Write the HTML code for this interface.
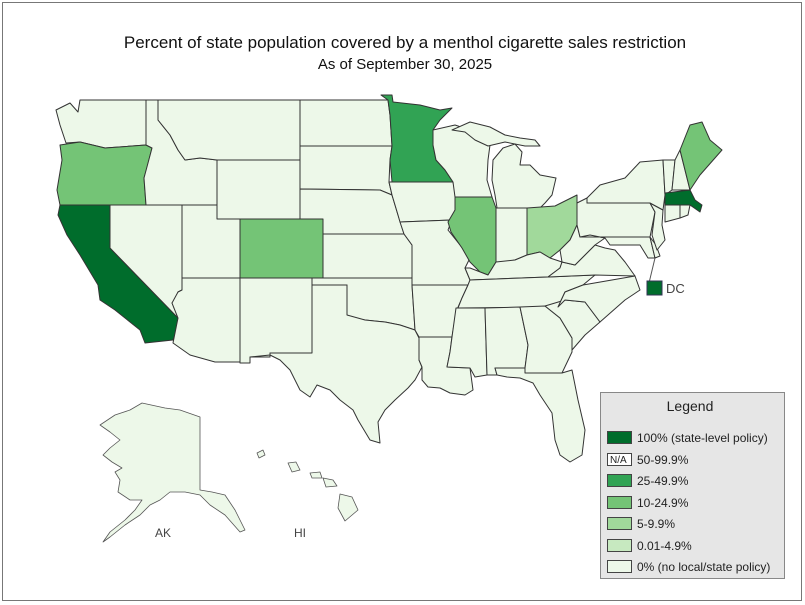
<!DOCTYPE html>
<html><head><meta charset="utf-8"><style>
body{margin:0;background:#fff;}
svg{display:block;font-family:"Liberation Sans",Arial,sans-serif;}
</style></head><body>
<svg width="805" height="605" viewBox="0 0 805 605">
<rect x="2.5" y="2.5" width="799" height="598" fill="#fff" stroke="#777"/>
<text x="405" y="48" font-size="17" text-anchor="middle" fill="#111">Percent of state population covered by a menthol cigarette sales restriction</text>
<text x="405" y="69" font-size="15" text-anchor="middle" fill="#111">As of September 30, 2025</text>
<g stroke="#333" stroke-width="1" stroke-linejoin="round" fill="#edf8e9">
<polygon points="56,110 70,103 78,112 80,100 146,100 146,145 105,148 80,142 66,143 60,125"/>
<polygon fill="#74c476" points="60,145 80,142 105,148 146,145 152,148 147,168 144,178 146,205 60,205 57,190 62,160"/>
<polygon fill="#006d2c" points="60,205 110,205 110,248 178,318 176,332 173,340 145,343 140,330 115,310 100,300 98,285 80,255 67,235 58,215"/>
<polygon points="110,205 182,205 182,290 178,292 175,300 172,303 178,318 110,248"/>
<polygon points="146,100 158,100 158,120 170,135 178,150 185,160 200,158 217,160 217,205 146,205 144,178 152,148 146,145"/>
<polygon points="158,100 300,100 300,160 217,160 200,158 185,160 178,150 170,135 158,120"/>
<polygon points="217,160 300,160 300,219 217,219"/>
<polygon points="182,205 217,205 217,219 240,219 240,278 182,278"/>
<polygon points="182,278 240,278 240,362 215,362 190,355 173,343 178,318 172,303 178,292 182,290"/>
<polygon fill="#74c476" points="240,219 323,219 323,278 240,278"/>
<polygon points="240,278 312,278 312,353 270,353 270,357 250,357 250,363 240,363"/>
<polygon points="300,100 388,100 390,115 392,146 300,146"/>
<polygon points="300,146 392,146 390,160 389,182 392,195 380,190 300,189"/>
<polygon points="300,189 380,190 392,195 398,215 404,234 323,234 323,219 300,219"/>
<polygon points="323,234 404,234 412,245 412,278 323,278"/>
<polygon points="312,278 412,278 412,285 415,330 400,325 385,322 365,320 350,318 347,315 347,285 312,285"/>
<polygon points="312,285 347,285 347,315 365,320 385,322 400,325 415,330 419,338 419,360 422,367 415,380 408,388 395,400 385,410 378,422 380,443 370,440 358,420 353,410 340,400 330,390 317,385 310,397 300,390 290,370 280,360 270,355 250,357 270,357 270,353 312,353"/>
<polygon fill="#31a354" points="381,95 392,95 393,102 420,105 440,110 452,108 440,120 433,130 433,145 436,160 445,170 453,182 392,182 390,160 392,146 390,115 388,100"/>
<polygon points="389,182 453,182 455,190 462,198 455,210 452,220 400,222 398,215 392,195"/>
<polygon points="400,222 452,220 448,230 460,245 470,258 465,268 470,280 468,285 412,285 412,245 404,234"/>
<polygon points="412,285 468,285 462,298 456,312 452,337 419,337 415,330"/>
<polygon points="419,337 452,337 450,352 447,367 470,368 473,390 465,395 450,393 440,388 428,387 422,380 422,367 419,360"/>
<polygon points="433,130 455,125 470,130 480,140 490,145 488,160 487,180 492,197 455,197 453,182 445,170 436,160 433,145"/>
<polygon points="452,130 470,122 490,127 505,135 520,138 535,140 540,146 525,146 505,142 488,146 475,140 465,132"/>
<polygon points="493,160 503,148 515,144 522,152 520,165 530,165 540,175 556,178 552,195 545,203 540,208 497,208 495,195 492,180"/>
<polygon fill="#74c476" points="455,197 492,197 496,208 496,262 488,275 480,272 470,262 462,248 451,232 448,222 455,210"/>
<polygon points="496,208 527,208 527,255 515,260 505,262 496,262"/>
<polygon fill="#a1d99b" points="527,208 555,206 577,195 577,225 570,240 560,250 550,258 540,252 527,255"/>
<polygon points="470,268 488,275 496,262 515,260 527,255 540,252 550,258 562,262 560,268 548,277 470,280 465,268"/>
<polygon points="470,280 548,277 595,275 583,285 565,292 558,307 458,308 462,298 468,285"/>
<polygon points="456,308 485,308 487,375 475,377 470,368 447,367 450,352 452,337"/>
<polygon points="485,308 520,307 528,345 525,368 495,368 497,375 487,375"/>
<polygon points="520,307 545,306 560,318 572,338 572,352 562,373 525,373 525,368 528,345"/>
<polygon points="495,368 525,368 525,373 562,373 572,370 578,400 585,430 582,455 570,462 560,455 555,440 552,413 540,395 533,383 520,378 507,377 497,375"/>
<polygon points="545,306 565,300 585,302 600,322 585,335 572,350 572,338 560,318"/>
<polygon points="558,307 565,292 583,285 635,276 640,290 625,300 600,322 585,302 565,300"/>
<polygon points="562,262 575,265 585,255 595,245 605,248 615,250 625,262 635,276 595,275 548,277 560,268"/>
<polygon points="560,250 570,240 577,225 580,237 590,235 605,238 595,245 585,255 575,265 562,262"/>
<polygon points="577,203 587,198 587,203 650,203 655,212 650,237 580,237 577,225"/>
<polygon points="580,237 650,237 655,258 648,258 640,245 610,245 605,238 590,235"/>
<polygon points="650,237 656,245 660,256 655,258"/>
<polygon points="650,203 663,210 662,225 665,240 657,250 652,235 655,212"/>
<polygon points="587,198 600,185 625,178 640,162 663,160 665,195 663,210 650,203 587,203"/>
<polygon points="663,160 675,160 672,190 665,195"/>
<polygon points="675,160 680,150 690,190 672,190"/>
<polygon fill="#74c476" points="680,150 690,125 702,122 710,140 722,150 700,175 690,190"/>
<polygon fill="#006d2c" points="665,193 690,190 695,200 702,205 700,212 690,205 665,205"/>
<polygon points="665,205 680,205 680,218 665,222"/>
<polygon points="680,205 690,205 688,215 680,218"/>
</g>
<g stroke="#555" stroke-width="0.8" fill="#edf8e9" stroke-linejoin="round">
<polygon points="142,403 165,408 180,410 200,417 200,490 212,492 225,495 235,510 245,530 240,532 225,515 210,505 200,495 185,492 170,492 160,500 150,505 140,515 125,525 110,537 103,542 110,532 125,520 135,510 142,500 130,500 118,492 120,480 115,472 122,468 112,462 103,455 110,448 120,440 110,432 100,425 115,415 130,410"/>
<polygon points="257,453 263,450 265,455 259,458"/>
<polygon points="288,463 296,462 300,470 292,472"/>
<polygon points="310,473 320,472 322,478 312,478"/>
<polygon points="323,478 333,480 337,486 326,487"/>
<polygon points="340,494 352,497 358,510 345,521 338,508"/>
</g>
<line x1="655" y1="258" x2="649" y2="283" stroke="#555"/>
<rect x="647" y="281" width="15" height="14" fill="#006d2c" stroke="#335"/>
<text x="666" y="293" font-size="13" fill="#444">DC</text>
<text x="155" y="537" font-size="12" fill="#444">AK</text>
<text x="294" y="537" font-size="12" fill="#444">HI</text>
<rect x="600.5" y="392.5" width="184" height="186" fill="#e6e6e6" stroke="#888"/>
<text x="690" y="411" font-size="14" text-anchor="middle" fill="#222">Legend</text>
<g font-size="12" fill="#222" stroke="#444">
<rect x="607.5" y="431.5" width="24" height="12" fill="#006d2c"/>
<rect x="607.5" y="453.5" width="24" height="12" fill="#fff"/>
<rect x="607.5" y="474.5" width="24" height="12" fill="#31a354"/>
<rect x="607.5" y="496.5" width="24" height="12" fill="#74c476"/>
<rect x="607.5" y="517.5" width="24" height="12" fill="#a1d99b"/>
<rect x="607.5" y="539.5" width="24" height="12" fill="#c7e9c0"/>
<rect x="607.5" y="560.5" width="24" height="12" fill="#edf8e9"/>
</g>
<g font-size="12" fill="#222">
<text x="610" y="463" font-size="10">N/A</text>
<text x="637" y="442">100% (state-level policy)</text>
<text x="637" y="464">50-99.9%</text>
<text x="637" y="485">25-49.9%</text>
<text x="637" y="507">10-24.9%</text>
<text x="637" y="528">5-9.9%</text>
<text x="637" y="550">0.01-4.9%</text>
<text x="637" y="571">0% (no local/state policy)</text>
</g>
</svg>
</body></html>
